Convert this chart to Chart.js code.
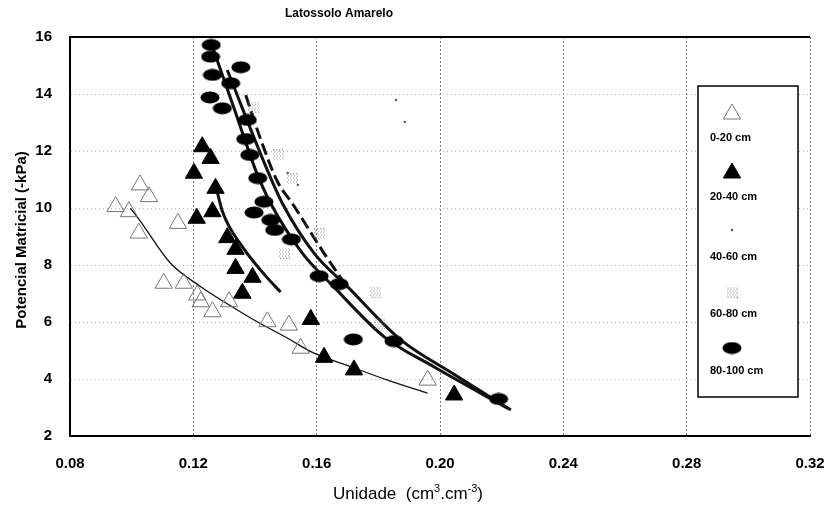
<!DOCTYPE html>
<html>
<head>
<meta charset="utf-8">
<script src="https://cdn.jsdelivr.net/npm/chart.js@4.4.0/dist/chart.umd.min.js"></script>
<style>
  html, body { margin: 0; padding: 0; background: #fff; }
  #wrap { width: 828px; height: 505px; }
</style>
</head>
<body>
<div id="wrap"><canvas id="chart" width="828" height="505"></canvas></div>
<script>
// ---- data ----
const depthLabels = ['0-20 cm', '20-40 cm', '40-60 cm', '60-80 cm', '80-100 cm'];
const xTickLabels = ['0.08', '0.12', '0.16', '0.20', '0.24', '0.28', '0.32'];
const yTickLabels = ['2', '4', '6', '8', '10', '12', '14', '16'];

const d0_20X = [0.1027, 0.1056, 0.0948, 0.0991, 0.1023, 0.1150, 0.1104, 0.1169, 0.1213, 0.1224, 0.1316, 0.1262, 0.1440, 0.1510, 0.1548, 0.1960];
const d0_20Y = [10.81, 10.40, 10.05, 9.87, 9.12, 9.46, 7.36, 7.36, 6.95, 6.71, 6.71, 6.36, 6.01, 5.89, 5.08, 3.96];

const d20_40X = [0.1229, 0.1256, 0.1202, 0.1272, 0.1262, 0.1211, 0.1310, 0.1337, 0.1337, 0.1392, 0.1359, 0.1581, 0.1624, 0.1721, 0.2046];
const d20_40Y = [12.15, 11.74, 11.22, 10.69, 9.87, 9.64, 8.96, 8.55, 7.88, 7.57, 7.01, 6.09, 4.76, 4.32, 3.44];

const d40_60X = [0.1857, 0.1886, 0.1506, 0.1539];
const d40_60Y = [13.79, 13.02, 11.23, 10.81];

const d60_80X = [0.1396, 0.1477, 0.1522, 0.1610, 0.1496, 0.1792, 0.1805];
const d60_80Y = [13.54, 11.86, 11.02, 9.09, 8.42, 7.05, 5.96];

const d80_100X = [0.1258, 0.1256, 0.1354, 0.1262, 0.1321, 0.1254, 0.1294, 0.1375, 0.1370, 0.1383, 0.1409, 0.1429, 0.1397, 0.1451, 0.1464, 0.1518, 0.1608, 0.1673, 0.1719, 0.1851, 0.2190];
const d80_100Y = [15.72, 15.31, 14.94, 14.67, 14.38, 13.88, 13.50, 13.09, 12.42, 11.86, 11.05, 10.22, 9.84, 9.58, 9.23, 8.90, 7.61, 7.33, 5.39, 5.33, 3.30];

// fitted curves, read as points along the drawn lines
const fit0_20X = [0.0996, 0.1029, 0.1126, 0.1224, 0.1310, 0.1397, 0.1516, 0.1581, 0.1711, 0.1830, 0.1960];
const fit0_20Y = [9.99, 9.52, 8.06, 7.24, 6.64, 6.07, 5.37, 4.96, 4.43, 3.96, 3.50];

const fit20_40X = [0.1272, 0.1295, 0.1360, 0.1435, 0.1483];
const fit20_40Y = [10.81, 9.86, 8.63, 7.61, 7.05];

const fitLeftX = [0.1262, 0.1334, 0.1402, 0.1451, 0.1554, 0.1655, 0.1819, 0.1980, 0.2220];
const fitLeftY = [15.66, 13.44, 11.33, 10.16, 8.41, 7.24, 5.48, 4.43, 2.97];

const fitRightX = [0.1310, 0.1440, 0.1489, 0.1592, 0.1700, 0.1873, 0.2040, 0.2230];
const fitRightY = [14.84, 11.33, 10.16, 8.41, 7.24, 5.37, 4.20, 2.91];

const fitDashX = [0.1370, 0.1419, 0.1473, 0.1521, 0.1624, 0.1694];
const fitDashY = [13.96, 12.39, 10.92, 10.16, 8.41, 7.30];

const FONT = '"Liberation Sans", Arial, sans-serif';

function pts(xs, ys) {
    return xs.map((x, i) => ({ x: x, y: ys[i] }));
}

function ellipseImg(w, h) {
    const c = document.createElement('canvas');
    c.width = w; c.height = h;
    const g = c.getContext('2d');
    g.fillStyle = '#000';
    g.beginPath();
    g.ellipse(w / 2, h / 2, w / 2 - 0.5, h / 2 - 0.5, 0, 0, Math.PI * 2);
    g.fill();
    return c;
}

function hatchImg(s) {
    const c = document.createElement('canvas');
    c.width = s; c.height = s;
    const g = c.getContext('2d');
    g.fillStyle = '#8c8c8c';
    for (let y = 0; y < s; y += 2) {
        for (let x = (y / 2) % 2; x < s; x += 3) g.fillRect(x, y, 1, 1);
    }
    return c;
}

const ellipse = ellipseImg(20, 13);
const hatch = hatchImg(11);

const markerStyles = [
    { pointStyle: 'triangle', radius: 10, fill: 'rgba(0,0,0,0)', stroke: '#777', width: 1 },
    { pointStyle: 'triangle', radius: 10, fill: '#000', stroke: '#000', width: 1 },
    { pointStyle: 'circle', radius: 1.2, fill: '#555', stroke: '#555', width: 0 },
    { pointStyle: hatch, radius: 6, fill: '#999', stroke: '#999', width: 0 },
    { pointStyle: ellipse, radius: 8, fill: '#000', stroke: '#000', width: 0 }
];

function fitLine(xs, ys, width, dash) {
    return {
        data: pts(xs, ys), showLine: true, borderColor: '#111', borderWidth: width,
        borderDash: dash || [], pointRadius: 0, cubicInterpolationMode: 'monotone', order: 2
    };
}

function markers(i, xs, ys) {
    const m = markerStyles[i];
    return {
        label: depthLabels[i], data: pts(xs, ys), showLine: false,
        pointStyle: m.pointStyle, pointRadius: m.radius,
        pointBackgroundColor: m.fill, pointBorderColor: m.stroke, pointBorderWidth: m.width,
        order: 1
    };
}

const textPlugin = {
    id: 'texts',
    afterDraw(chart) {
        const ctx = chart.ctx;
        ctx.save();
        ctx.fillStyle = '#000';

        // title
        ctx.font = 'bold 12px ' + FONT;
        ctx.textAlign = 'center';
        ctx.textBaseline = 'middle';
        ctx.fillText('Latossolo Amarelo', 339, 14);

        // y title
        ctx.save();
        ctx.translate(22, 240);
        ctx.rotate(-Math.PI / 2);
        ctx.font = 'bold 15px ' + FONT;
        ctx.fillText('Potencial Matricial (-kPa)', 0, 0);
        ctx.restore();

        // x title with superscripts
        const parts = [['Unidade  (cm', 0], ['3', 1], ['.cm', 0], ['-3', 1], [')', 0]];
        const big = '17px ' + FONT, small = '11px ' + FONT;
        let total = 0;
        parts.forEach(p => { ctx.font = p[1] ? small : big; total += ctx.measureText(p[0]).width; });
        let x = 408 - total / 2;
        ctx.textAlign = 'left';
        ctx.textBaseline = 'alphabetic';
        parts.forEach(p => {
            ctx.font = p[1] ? small : big;
            ctx.fillText(p[0], x, p[1] ? 492 : 499);
            x += ctx.measureText(p[0]).width;
        });

        // legend box
        const bx = 698, by = 86, bw = 100, bh = 311;
        ctx.fillStyle = '#fff';
        ctx.fillRect(bx, by, bw, bh);
        ctx.strokeStyle = '#000';
        ctx.lineWidth = 1.5;
        ctx.strokeRect(bx, by, bw, bh);

        const markY = [114, 173, 230, 292, 348];
        const labelY = [138, 197, 257, 314, 371];
        ctx.font = 'bold 11px ' + FONT;
        ctx.textBaseline = 'middle';
        depthLabels.forEach((lab, i) => {
            const m = markerStyles[i];
            ctx.fillStyle = m.fill;
            ctx.strokeStyle = m.stroke;
            ctx.lineWidth = m.width;
            Chart.helpers.drawPoint(ctx, { pointStyle: m.pointStyle, radius: m.radius, rotation: 0, borderWidth: m.width }, 732, markY[i]);
            ctx.fillStyle = '#000';
            ctx.textAlign = 'left';
            ctx.fillText(lab, 710, labelY[i]);
        });
        ctx.restore();
    }
};

new Chart(document.getElementById('chart'), {
    type: 'scatter',
    data: {
        datasets: [
            fitLine(fit0_20X, fit0_20Y, 1.3),
            fitLine(fit20_40X, fit20_40Y, 3),
            fitLine(fitLeftX, fitLeftY, 3),
            fitLine(fitRightX, fitRightY, 3),
            fitLine(fitDashX, fitDashY, 3, [12, 5]),
            markers(0, d0_20X, d0_20Y),
            markers(1, d20_40X, d20_40Y),
            markers(2, d40_60X, d40_60Y),
            markers(3, d60_80X, d60_80Y),
            markers(4, d80_100X, d80_100Y)
        ]
    },
    options: {
        responsive: false,
        animation: false,
        devicePixelRatio: 1,
        layout: { padding: { top: 37, right: 0, left: 0, bottom: 0 } },
        plugins: { legend: { display: false }, tooltip: { enabled: false } },
        scales: {
            x: {
                type: 'linear', min: 0.08, max: 0.32,
                afterFit: s => { s.height = 69; s.paddingLeft = 0; s.paddingRight = 18; },
                ticks: {
                    stepSize: 0.02, autoSkip: false, maxRotation: 0, padding: 19, color: '#000',
                    font: { family: FONT, size: 15, weight: 'bold' },
                    callback: (v, i) => (i % 2 === 0 ? xTickLabels[i / 2] : null)
                },
                grid: { color: '#7a7a7a', lineWidth: 1, drawTicks: false },
                border: { color: '#000', width: 2, dash: [2, 2] }
            },
            y: {
                type: 'linear', min: 2, max: 16,
                afterFit: s => { s.width = 70; },
                ticks: {
                    stepSize: 1, autoSkip: false, padding: 18, color: '#000',
                    font: { family: FONT, size: 15, weight: 'bold' },
                    callback: (v, i) => (i % 2 === 0 ? yTickLabels[i / 2] : null)
                },
                grid: {
                    drawTicks: false,
                    color: c => (c.tick && c.tick.value === 16 ? '#000' : '#b5b5b5'),
                    lineWidth: c => (c.tick && c.tick.value === 16 ? 2 : 1)
                },
                border: {
                    color: '#000', width: 2,
                    dash: c => (c.tick && c.tick.value === 16 ? [] : [1, 3])
                }
            }
        }
    },
    plugins: [textPlugin]
});
</script>
</body>
</html>
